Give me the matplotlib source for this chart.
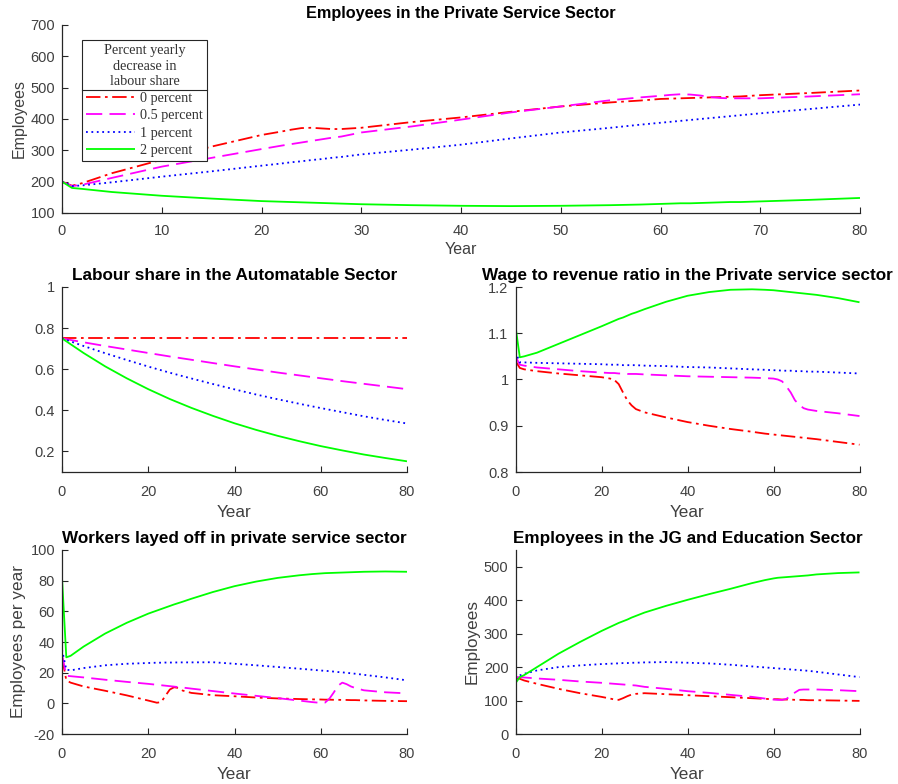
import matplotlib
matplotlib.use("Agg")
import matplotlib.pyplot as plt
from matplotlib.lines import Line2D
import numpy as np

# ---------------- data ----------------
YEAR = [0, 1, 2, 5, 10, 15, 20, 22, 23, 24, 25, 26, 27, 28, 30, 35, 40, 45, 50,
        55, 58, 60, 61, 62, 63, 64, 65, 66, 67, 68, 70, 75, 80]
YEAR_LS = [0, 5, 10, 15, 20, 25, 30, 35, 40, 45, 50, 55, 60, 65, 70, 75, 80]

series_labels = ["0 percent", "0.5 percent", "1 percent", "2 percent"]
legend_title = "Percent yearly\ndecrease in\nlabour share"

# Employees in the Private Service Sector
priv_0 = [200, 187, 195, 227, 270, 312, 349, 360, 366, 371, 372, 370, 368, 368, 372, 390, 405, 423,
          440, 453, 459, 464, 465, 466, 467, 468, 469, 470, 471, 472, 476, 483, 491]
priv_05 = [200, 186, 190, 212, 248, 276, 304, 315, 320, 325, 330, 335, 340, 344, 357, 376, 398, 421,
           440, 460, 469, 474, 477, 479, 478, 475, 470, 467, 466, 466, 466, 472, 479]
priv_1 = [200, 186, 188, 198, 216, 233, 251, 258, 262, 265, 269, 272, 276, 279, 287, 302, 318, 338,
          357, 372, 382, 388, 391, 394, 397, 400, 403, 406, 409, 412, 418, 432, 446]
priv_2 = [200, 180, 177, 167, 155, 146, 138, 136, 135, 134, 133, 132, 131, 130, 128, 125, 123, 122,
          123, 125, 127, 129, 130, 131, 131, 132, 133, 134, 135, 135, 137, 142, 148]

# Labour share in the Automatable Sector
ls_0 = [0.75] * 17
ls_05 = [0.750, 0.731, 0.713, 0.696, 0.679, 0.662, 0.646, 0.630, 0.614, 0.599, 0.584, 0.570,
         0.556, 0.542, 0.529, 0.516, 0.503]
ls_1 = [0.750, 0.713, 0.678, 0.645, 0.613, 0.583, 0.555, 0.528, 0.502, 0.477, 0.454, 0.432,
        0.411, 0.391, 0.371, 0.353, 0.336]
ls_2 = [0.750, 0.679, 0.614, 0.556, 0.503, 0.455, 0.412, 0.373, 0.337, 0.305, 0.276, 0.250,
        0.226, 0.205, 0.185, 0.168, 0.152]

# Wage to revenue ratio in the Private service sector
wr_0 = [1.040, 1.025, 1.022, 1.018, 1.013, 1.009, 1.005, 1.002, 0.999, 0.990, 0.972, 0.955,
        0.944, 0.936, 0.929, 0.918, 0.908, 0.900, 0.893, 0.887, 0.883, 0.881, 0.880, 0.879,
        0.878, 0.877, 0.876, 0.875, 0.874, 0.873, 0.871, 0.865, 0.859]
wr_05 = [1.050, 1.032, 1.030, 1.026, 1.022, 1.018, 1.015, 1.014, 1.014, 1.013, 1.013, 1.012,
         1.012, 1.012, 1.011, 1.009, 1.007, 1.006, 1.005, 1.004, 1.003, 1.002, 1.000, 0.996,
         0.985, 0.972, 0.955, 0.945, 0.938, 0.935, 0.932, 0.927, 0.921]
wr_1 = [1.060, 1.037, 1.037, 1.036, 1.035, 1.034, 1.033, 1.032, 1.032, 1.032, 1.031, 1.031,
        1.031, 1.031, 1.030, 1.029, 1.027, 1.026, 1.024, 1.022, 1.021, 1.020, 1.020, 1.019,
        1.019, 1.019, 1.018, 1.018, 1.018, 1.017, 1.017, 1.015, 1.013]
wr_2 = [1.115, 1.048, 1.050, 1.058, 1.077, 1.096, 1.115, 1.123, 1.127, 1.131, 1.134, 1.138,
        1.142, 1.145, 1.152, 1.168, 1.181, 1.189, 1.194, 1.195, 1.194, 1.193, 1.192, 1.191,
        1.190, 1.189, 1.188, 1.187, 1.186, 1.185, 1.183, 1.176, 1.167]

# Workers layed off in private service sector
lo_0 = [30, 15, 13.5, 11, 8.2, 5.2, 1.8, 0.4, 0.8, 5.0, 9.0, 10.5, 10.0, 8.3, 6.8, 5.3, 4.6,
        3.8, 3.2, 2.8, 2.6, 2.5, 2.4, 2.4, 2.3, 2.3, 2.2, 2.2, 2.1, 2.1, 1.9, 1.6, 1.4]
lo_05 = [32, 18, 17.7, 16.9, 15.4, 14.0, 12.7, 12.1, 11.8, 11.5, 11.2, 10.9, 10.6, 10.3, 9.6,
         8.0, 6.4, 4.9, 3.4, 1.8, 0.8, 0.3, 0.5, 3.0, 7.0, 11.5, 13.5, 12.5, 11.0, 10.0, 8.5,
         7.2, 6.5]
lo_1 = [35, 22, 21.5, 23, 24.8, 25.8, 26.3, 26.5, 26.5, 26.6, 26.6, 26.6, 26.7, 26.7, 26.7,
        26.8, 25.8, 24.8, 23.7, 22.6, 21.9, 21.4, 21.2, 21.0, 20.7, 20.4, 20.2, 19.9, 19.6,
        19.3, 18.6, 16.9, 15.0]
lo_2 = [82, 30, 31, 37, 45.5, 52.5, 58.5, 60.5, 61.5, 62.5, 63.5, 64.5, 65.4, 66.3, 68.2, 72.6,
        76.4, 79.4, 81.8, 83.5, 84.3, 84.7, 84.9, 85.0, 85.1, 85.2, 85.3, 85.4, 85.5, 85.6,
        85.8, 86.0, 85.8]

# Employees in the JG and Education Sector
jg_0 = [170, 165, 160, 150, 135, 122, 111, 106, 103, 102, 107, 113, 118, 120, 122, 119, 116,
        113, 110, 107, 105, 104, 104, 103, 103, 103, 102, 102, 102, 101, 101, 100, 99]
jg_05 = [170, 170, 169, 166, 162, 157, 153, 151, 150, 149, 148, 147, 146, 145, 141, 135, 128,
         123, 117, 111, 106, 103, 102, 102, 105, 114, 124, 132, 133, 133, 133, 131, 128]
jg_1 = [165, 175, 180, 190, 200, 205, 209, 210, 211, 211, 212, 212, 213, 213, 214, 215, 213,
        211, 207, 202, 199, 197, 196, 195, 194, 193, 192, 191, 190, 189, 186, 178, 170]
jg_2 = [152, 170, 176, 200, 240, 275, 308, 320, 326, 332, 337, 342, 348, 353, 363, 383, 401,
        418, 434, 451, 460, 465, 467, 468, 469, 470, 471, 472, 473, 474, 477, 481, 483]

# ---------------- style ----------------
plt.rcParams['font.family'] = ['Liberation Sans', 'DejaVu Sans']
plt.rcParams['axes.unicode_minus'] = False
TICK_C = '#404040'
AX_C = '#262626'
FS_TICK = 10.5

COLORS = ['#ff0000', '#ff00ff', '#0000ff', '#00ff00']
DASHES = [(8, 2.5, 1.5, 2.5), (9, 4), (1, 2), None]
LW = 1.3

fig = plt.figure(figsize=(8.98, 7.84), dpi=100)
W, H = 898.0, 784.0


def make_ax(l, t, r, b):
    return fig.add_axes([l / W, 1 - b / H, (r - l) / W, (b - t) / H])


def style(ax, title, xlim, ylim, yticks, xticks, ylabel=None, fs_title=12.3, fs_lab=12.3,
          xpad=9.5, xlabpad=4):
    ax.set_xlim(*xlim)
    ax.set_ylim(*ylim)
    ax.set_xticks(xticks)
    ax.set_yticks(yticks)
    for s in ['top', 'right']:
        ax.spines[s].set_visible(False)
    for s in ['left', 'bottom']:
        ax.spines[s].set_color(AX_C)
        ax.spines[s].set_linewidth(0.9)
    ax.tick_params(direction='in', length=4, width=0.8, color=AX_C,
                   labelsize=FS_TICK, labelcolor=TICK_C)
    ax.tick_params(axis='x', pad=xpad)
    ax.tick_params(axis='y', pad=5)
    ax.set_title(title, fontsize=fs_title, fontweight='bold', color='black', pad=5)
    ax.set_xlabel('Year', fontsize=fs_lab, color=TICK_C, labelpad=xlabpad)
    if ylabel:
        ax.set_ylabel(ylabel, fontsize=fs_lab, color=TICK_C, labelpad=3)


def plot_series(ax, x, ys):
    handles = []
    for y, c, d, lab in zip(ys, COLORS, DASHES, series_labels):
        ln, = ax.plot(x, y, color=c, lw=LW, label=lab, solid_capstyle='butt')
        if d is not None:
            ln.set_dashes(d)
        handles.append(ln)
    return handles


def fmt_tick(v):
    return '%g' % v


# top panel
ax1 = make_ax(62, 25, 860, 213)
h = plot_series(ax1, YEAR, [priv_0, priv_05, priv_1, priv_2])
style(ax1, 'Employees in the Private Service Sector', (0, 80), (100, 700),
      np.arange(100, 701, 100), np.arange(0, 81, 10), 'Employees',
      fs_title=11.7, fs_lab=11.5, xpad=8, xlabpad=3)

leg = ax1.legend(handles=h, title=legend_title, loc='upper left',
                 bbox_to_anchor=(0.025, 0.92), frameon=True, fancybox=False,
                 edgecolor='#262626', framealpha=1,
                 prop={'family': 'Liberation Serif', 'size': 10.3},
                 handlelength=3.4, handletextpad=0.35, labelspacing=0.3,
                 borderpad=0.3, borderaxespad=0)
lt = leg.get_title()
lt.set_fontfamily('Liberation Serif')
lt.set_fontsize(10.3)
lt.set_color('#333333')
lt.set_multialignment('center')
lt.set_linespacing(1.22)
leg._legend_handle_box.sep = 8
leg.get_frame().set_linewidth(0.8)
for t in leg.get_texts():
    t.set_color('#333333')

# middle left
ax2 = make_ax(62, 287, 407, 472)
plot_series(ax2, YEAR_LS, [ls_0, ls_05, ls_1, ls_2])
style(ax2, 'Labour share in the Automatable Sector', (0, 80), (0.1, 1.0),
      [0.2, 0.4, 0.6, 0.8, 1.0], np.arange(0, 81, 20))
ax2.set_yticklabels([fmt_tick(v) for v in [0.2, 0.4, 0.6, 0.8, 1.0]])

# middle right
ax3 = make_ax(515.5, 287, 859.5, 472)
plot_series(ax3, YEAR, [wr_0, wr_05, wr_1, wr_2])
style(ax3, 'Wage to revenue ratio in the Private service sector', (0, 80), (0.8, 1.2),
      [0.8, 0.9, 1.0, 1.1, 1.2], np.arange(0, 81, 20))
ax3.set_yticklabels([fmt_tick(v) for v in [0.8, 0.9, 1.0, 1.1, 1.2]])

# bottom left
ax4 = make_ax(62, 550, 407, 734)
plot_series(ax4, YEAR, [lo_0, lo_05, lo_1, lo_2])
style(ax4, 'Workers layed off in private service sector', (0, 80), (-20, 100),
      np.arange(-20, 101, 20), np.arange(0, 81, 20), 'Employees per year')

# bottom right
ax5 = make_ax(515.5, 550, 859.5, 734)
plot_series(ax5, YEAR, [jg_0, jg_05, jg_1, jg_2])
style(ax5, 'Employees in the JG and Education Sector', (0, 80), (0, 550),
      np.arange(0, 501, 100), np.arange(0, 81, 20), 'Employees')

# legend title separator line (between title and entries)
fig.canvas.draw()
r = fig.canvas.get_renderer()
fb = leg.get_frame().get_window_extent(r)
tb = lt.get_window_extent(r)
eb = leg.get_texts()[0].get_window_extent(r)
ysep = (tb.y0 + eb.y1) / 2.0
fig.add_artist(Line2D([fb.x0 / W, fb.x1 / W], [ysep / H] * 2,
                      transform=fig.transFigure, color='#262626', lw=0.8))

fig.savefig('out.png', dpi=100)
